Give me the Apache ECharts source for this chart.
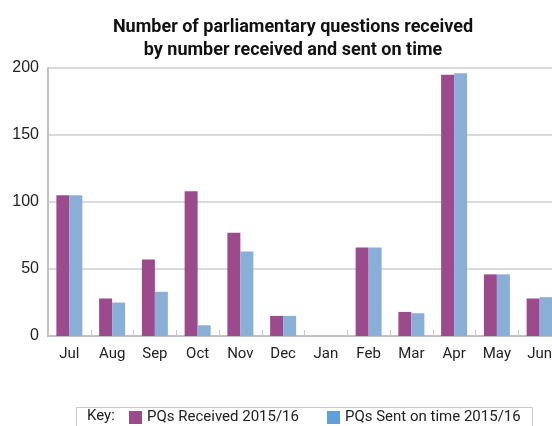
<!DOCTYPE html>
<html>
<head>
<meta charset="utf-8">
<script src="https://cdn.jsdelivr.net/npm/echarts@6/dist/echarts.min.js"></script>
<style>
  html, body { margin: 0; padding: 0; background: #fff; overflow: hidden; }
  /* the canvas is a little wider than the window so the plot runs off the right edge */
  #chart { width: 564px; height: 426px; }
</style>
</head>
<body>
<div id="chart"></div>
<script>
// Monthly parliamentary questions, 2015/16
const months = ['Jul', 'Aug', 'Sep', 'Oct', 'Nov', 'Dec', 'Jan', 'Feb', 'Mar', 'Apr', 'May', 'Jun'];
const received = [105, 28, 57, 108, 77, 15, 0, 66, 18, 195, 46, 28];
const sentOnTime = [105, 25, 33, 8, 63, 15, 0, 66, 17, 196, 46, 29];
const yTicks = [0, 50, 100, 150, 200];

const chart = echarts.init(document.getElementById('chart'), null, { renderer: 'canvas' });

const purple = '#9b4a8b';
const blue = '#8aafd6';
const blueKey = '#5fa0d8';
const font = 'Roboto, "Liberation Sans", sans-serif';

chart.setOption({
  animation: false,
  backgroundColor: '#ffffff',
  title: {
    text: 'Number of parliamentary questions received\nby number received and sent on time',
    left: 288,
    top: 11,
    textAlign: 'center',
    textStyle: {
      fontFamily: font,
      fontSize: 18,
      fontWeight: 'bold',
      color: '#111',
      lineHeight: 23
    }
  },
  graphic: [
    {
      type: 'rect',
      shape: { x: 76.5, y: 407.5, width: 456, height: 30 },
      style: { fill: 'none', stroke: '#c8c8c8', lineWidth: 1 },
      silent: true
    },
    {
      type: 'text',
      style: {
        x: 87, y: 416, text: 'Key:',
        font: '15px ' + font,
        fill: '#222',
        textVerticalAlign: 'middle'
      },
      silent: true
    }
  ],
  legend: {
    left: 124,
    top: 405,
    itemWidth: 13,
    itemHeight: 13,
    itemGap: 28,
    icon: 'rect',
    textStyle: { fontFamily: font, fontSize: 15, color: '#222' },
    data: [
      { name: 'PQs Received 2015/16', itemStyle: { color: purple } },
      { name: 'PQs Sent on time 2015/16', itemStyle: { color: blueKey } }
    ]
  },
  grid: {
    left: 48,
    top: 68,
    width: 513,
    height: 268,
    containLabel: false
  },
  xAxis: {
    type: 'category',
    data: months,
    axisLine: { show: true, lineStyle: { color: '#c0c0c0', width: 2 } },
    axisTick: { show: true, inside: true, length: 6, lineStyle: { color: '#c8c8c8' } },
    axisLabel: { fontFamily: font, fontSize: 15, color: '#222', margin: 11 }
  },
  yAxis: {
    type: 'value',
    min: yTicks[0],
    max: yTicks[yTicks.length - 1],
    interval: yTicks[1] - yTicks[0],
    axisLine: { show: true, lineStyle: { color: '#c0c0c0', width: 2 } },
    axisTick: { show: false },
    splitLine: { show: true, lineStyle: { color: '#cccccc', width: 1.5 } },
    axisLabel: { fontFamily: '"Liberation Sans", Arial, sans-serif', fontSize: 16, color: '#222', margin: 9 }
  },
  series: [
    {
      name: 'PQs Received 2015/16',
      type: 'bar',
      data: received,
      barWidth: 13,
      barGap: '0%',
      itemStyle: { color: purple }
    },
    {
      name: 'PQs Sent on time 2015/16',
      type: 'bar',
      data: sentOnTime,
      barWidth: 13,
      barGap: '0%',
      itemStyle: { color: blue }
    }
  ]
});
</script>
</body>
</html>
